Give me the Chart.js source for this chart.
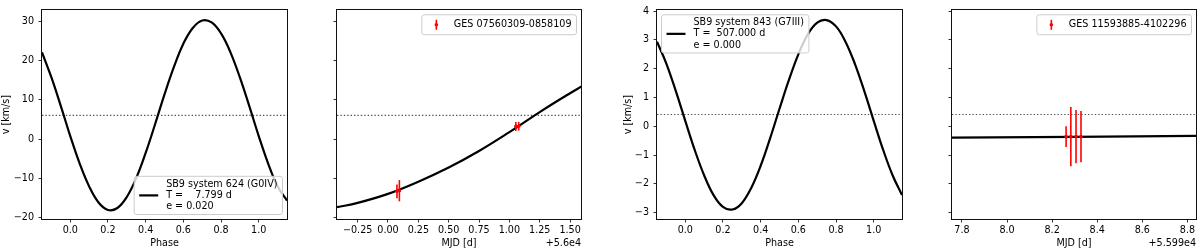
<!DOCTYPE html>
<html>
<head>
<meta charset="utf-8">
<script src="https://cdn.jsdelivr.net/npm/chart.js@4.4.1/dist/chart.umd.min.js"></script>
<style>
  html, body { margin: 0; padding: 0; background: #fff; }
  #wrap { position: relative; width: 1200px; height: 250px; overflow: hidden; }
  canvas { position: absolute; top: 0; }
</style>
</head>
<body>
<div id="wrap">
  <canvas id="c1" width="300" height="250" style="left:0px"></canvas>
  <canvas id="c2" width="300" height="250" style="left:300px"></canvas>
  <canvas id="c3" width="300" height="250" style="left:622px"></canvas>
  <canvas id="c4" width="278" height="250" style="left:922px"></canvas>
</div>
<script>
// --- SB9 624 : phased orbit ---
const phase1 = [-0.15, -0.10, -0.05, 0.00, 0.05, 0.10, 0.15, 0.20, 0.25, 0.30, 0.35, 0.40, 0.45, 0.50,
                0.55, 0.60, 0.65, 0.70, 0.75, 0.80, 0.85, 0.90, 0.95, 1.00, 1.05, 1.10, 1.15];
const vel1 = [22.1, 15.7, 8.4, 0.8, -6.2, -12.0, -16.1, -18.0, -17.5, -14.7, -9.9, -3.5, 3.8, 11.4,
              18.4, 24.3, 28.3, 30.2, 29.7, 26.9, 22.1, 15.7, 8.4, 0.8, -6.2, -12.0, -15.6];
const gamma1 = 6.05;
const legend1 = ['SB9 system 624 (G0IV)', 'T =    7.799 d', 'e = 0.020'];

// --- GES 07560309-0858109 : model vs. MJD (offset 5.6e4) ---
const mjd2 = [-0.42, -0.25, 0.00, 0.25, 0.50, 0.75, 1.00, 1.25, 1.50, 1.60];
const vel2 = [-17.3, -16.2, -13.9, -10.8, -7.2, -3.0, 1.8, 6.9, 11.7, 13.5];
const obsT2 = [0.074, 0.094, 1.053, 1.077];
const obsV2 = [-13.25, -13.1, 3.25, 3.3];
const obsE2 = [1.75, 2.7, 1.15, 1.1];
const legend2 = ['GES 07560309-0858109'];

// --- SB9 843 : phased orbit ---
const phase3 = phase1;
const vel3 = [2.94, 2.17, 1.22, 0.19, -0.82, -1.70, -2.39, -2.80, -2.89, -2.67, -2.14, -1.37, -0.42, 0.61,
              1.61, 2.50, 3.19, 3.60, 3.69, 3.47, 2.94, 2.17, 1.22, 0.19, -0.82, -1.70, -2.39];
const gamma3 = 0.41;
const legend3 = ['SB9 system 843 (G7III)', 'T =  507.000 d', 'e = 0.000'];

// --- GES 11593885-4102296 : model vs. MJD (offset 5.599e4) ---
const mjd4 = [7.756, 8.838];
const vel4 = [-0.395, -0.335];
const obsT4 = [8.262, 8.283, 8.306, 8.328];
const obsV4 = [-0.36, -0.36, -0.355, -0.36];
const obsE4 = [0.36, 1.03, 0.925, 0.89];
const legend4 = ['GES 11593885-4102296'];

// tick values
const yTicks1 = [-20, -10, 0, 10, 20, 30];
const yTicks3 = [-3, -2, -1, 0, 1, 2, 3, 4];
const phaseTicks = [0, 0.2, 0.4, 0.6, 0.8, 1.0];
const mjdTicks2 = [-0.25, 0, 0.25, 0.5, 0.75, 1.0, 1.25, 1.5];
const mjdTicks4 = [7.8, 8.0, 8.2, 8.4, 8.6, 8.8];

const FS = 9.6;
const FONT = 'DejaVu Sans';
Chart.defaults.font.family = FONT;
Chart.defaults.font.size = FS;
Chart.defaults.color = '#000';

const minus = s => s.replace('-', '\u2212');
const pts = (xs, ys) => xs.map((x, i) => ({ x, y: ys[i] }));

// error bars, frame, legend box, offset text
const extras = {
  id: 'extras',
  afterDatasetsDraw(chart, args, o) {
    const { ctx, chartArea: a, scales: { x, y } } = chart;
    ctx.save();
    if (o.err) {
      ctx.strokeStyle = '#ff0000';
      ctx.fillStyle = '#ff0000';
      ctx.lineWidth = 1.6;
      o.err.x.forEach((t, i) => {
        const px = x.getPixelForValue(t);
        ctx.beginPath();
        ctx.moveTo(px, y.getPixelForValue(o.err.y[i] + o.err.e[i]));
        ctx.lineTo(px, y.getPixelForValue(o.err.y[i] - o.err.e[i]));
        ctx.stroke();
        ctx.beginPath();
        ctx.arc(px, y.getPixelForValue(o.err.y[i]), 1.8, 0, Math.PI * 2);
        ctx.fill();
      });
    }
    // frame
    ctx.strokeStyle = '#111';
    ctx.lineWidth = 1;
    const L = Math.round(a.left) - 0.5, T = Math.round(a.top) - 0.5;
    ctx.strokeRect(L, T, Math.round(a.right) - Math.round(a.left) + 1, Math.round(a.bottom) - Math.round(a.top) + 1);
    // legend
    if (o.legend) {
      const lines = o.legend.lines;
      ctx.font = `${FS}px "${FONT}"`;
      const tw = Math.max(...lines.map(l => ctx.measureText(l).width));
      const w = 5 + 19 + 8 + tw + 5;
      const gap = 11.2;
      const h = lines.length > 1 ? (lines.length - 1) * gap + 15.8 : 20;
      const m = 4.5;
      const c = o.legend.corner;
      const bx = c[1] === 'r' ? a.right - m - w : a.left + m;
      const by = c[0] === 'u' ? a.top + m : a.bottom - m - h;
      ctx.beginPath();
      ctx.roundRect(bx, by, w, h, 2.5);
      ctx.fillStyle = 'rgba(255,255,255,0.8)';
      ctx.fill();
      ctx.strokeStyle = '#cccccc';
      ctx.lineWidth = 1;
      ctx.stroke();
      const cy = by + h / 2;
      if (o.legend.handle === 'err') {
        const hx = bx + 5 + 9.5;
        ctx.strokeStyle = '#ff0000';
        ctx.fillStyle = '#ff0000';
        ctx.lineWidth = 1.6;
        ctx.beginPath();
        ctx.moveTo(hx, cy - 5); ctx.lineTo(hx, cy + 5);
        ctx.stroke();
        ctx.beginPath();
        ctx.arc(hx, cy, 1.8, 0, Math.PI * 2);
        ctx.fill();
      } else {
        ctx.strokeStyle = '#000';
        ctx.lineWidth = 2.2;
        ctx.beginPath();
        ctx.moveTo(bx + 5, cy); ctx.lineTo(bx + 24, cy);
        ctx.stroke();
      }
      ctx.fillStyle = '#000';
      ctx.textAlign = 'left';
      ctx.textBaseline = 'middle';
      const y0 = cy - (lines.length - 1) * gap / 2;
      lines.forEach((l, i) => ctx.fillText(l, bx + 32, y0 + i * gap));
    }
    if (o.offset) {
      ctx.font = `${FS}px "${FONT}"`;
      ctx.fillStyle = '#000';
      ctx.textAlign = 'right';
      ctx.textBaseline = 'middle';
      ctx.fillText(o.offset, a.right, 243);
    }
    ctx.restore();
  }
};

function makeChart(id, cfg) {
  const datasets = [
    { data: cfg.curve, showLine: true, pointRadius: 0, borderColor: '#000', borderWidth: 2.2,
      tension: 0.4, clip: 0, order: 1 }
  ];
  if (cfg.gamma !== undefined) {
    datasets.push({ data: [{ x: cfg.xmin, y: cfg.gamma }, { x: cfg.xmax, y: cfg.gamma }],
      showLine: true, pointRadius: 0, borderColor: '#555', borderWidth: 1.2,
      borderDash: [1.4, 2.0], clip: 0, order: 2 });
  }
  return new Chart(document.getElementById(id), {
    type: 'scatter',
    data: { datasets },
    options: {
      responsive: false,
      animation: false,
      events: [],
      layout: { padding: { top: 5, right: cfg.padRight, bottom: 0, left: 0 } },
      plugins: {
        legend: { display: false },
        tooltip: { enabled: false },
        extras: { err: cfg.err, legend: cfg.legend, offset: cfg.offset }
      },
      scales: {
        x: {
          type: 'linear', min: cfg.xmin, max: cfg.xmax,
          afterBuildTicks: s => { s.ticks = cfg.xticks.map(v => ({ value: v })); },
          afterFit: s => { s.height = 31; },
          ticks: { padding: 2, maxRotation: 0, autoSkip: false,
                   callback: v => minus(v.toFixed(cfg.xdec)) },
          grid: { drawOnChartArea: false, drawTicks: true, tickLength: 3.5, color: '#000', lineWidth: 0.8 },
          border: { display: false },
          title: { display: true, text: cfg.xtitle, padding: { top: 0, bottom: 1 } }
        },
        y: {
          type: 'linear', min: cfg.ymin, max: cfg.ymax,
          afterBuildTicks: s => { s.ticks = cfg.yticks.map(v => ({ value: v })); },
          afterFit: s => { s.width = cfg.yw; },
          ticks: { padding: 4.5, autoSkip: false,
                   callback: v => cfg.ylabels ? minus(String(v)) : '' },
          grid: { drawOnChartArea: false, drawTicks: true, tickLength: 3.5, color: '#000', lineWidth: 0.8 },
          border: { display: false },
          title: { display: cfg.ylabels, text: 'v [km/s]', padding: { top: 1.2, bottom: 0 } }
        }
      }
    },
    plugins: [extras]
  });
}

makeChart('c1', {
  curve: pts(phase1, vel1), gamma: gamma1, xmin: -0.15, xmax: 1.15, ymin: -20.3, ymax: 32.8,
  xticks: phaseTicks, xdec: 1, yticks: yTicks1, ylabels: true, yw: 42, padRight: 13,
  xtitle: 'Phase', legend: { lines: legend1, corner: 'lr', handle: 'line' }
});
makeChart('c2', {
  curve: pts(mjd2, vel2), gamma: gamma1, xmin: -0.42, xmax: 1.59, ymin: -20.3, ymax: 32.8,
  xticks: mjdTicks2, xdec: 2, yticks: yTicks1, ylabels: false, yw: 37, padRight: 19,
  xtitle: 'MJD [d]', offset: '+5.6e4',
  err: { x: obsT2, y: obsV2, e: obsE2 },
  legend: { lines: legend2, corner: 'ur', handle: 'err' }
});
makeChart('c3', {
  curve: pts(phase3, vel3), gamma: gamma3, xmin: -0.15, xmax: 1.15, ymin: -3.22, ymax: 4.03,
  xticks: phaseTicks, xdec: 1, yticks: yTicks3, ylabels: true, yw: 35, padRight: 20,
  xtitle: 'Phase', legend: { lines: legend3, corner: 'ul', handle: 'line' }
});
makeChart('c4', {
  curve: pts(mjd4, vel4), gamma: gamma3, xmin: 7.756, xmax: 8.838, ymin: -3.22, ymax: 4.03,
  xticks: mjdTicks4, xdec: 1, yticks: yTicks3, ylabels: false, yw: 30, padRight: 4,
  xtitle: 'MJD [d]', offset: '+5.599e4',
  err: { x: obsT4, y: obsV4, e: obsE4 },
  legend: { lines: legend4, corner: 'ur', handle: 'err' }
});
</script>
</body>
</html>
